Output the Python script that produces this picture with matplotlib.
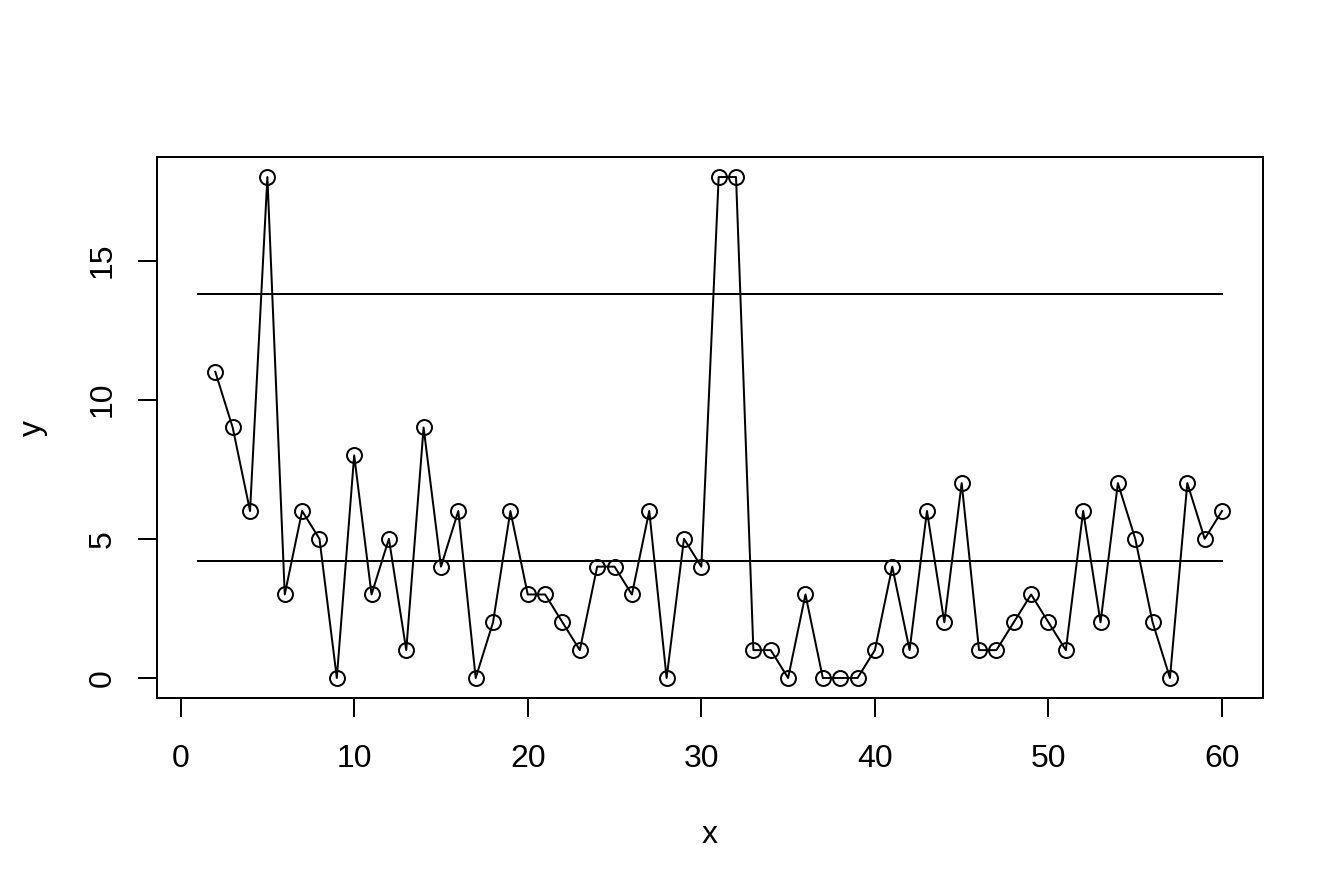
import numpy as np
import matplotlib.pyplot as plt

plt.rcParams['font.family'] = ['Liberation Sans', 'DejaVu Sans']

# series
x = np.arange(2, 61)
y = np.array([11, 9, 6, 18, 3, 6, 5, 0, 8, 3,
              5, 1, 9, 4, 6, 0, 2, 6, 3, 3,
              2, 1, 4, 4, 3, 6, 0, 5, 4, 18,
              18, 1, 1, 0, 3, 0, 0, 0, 1, 4,
              1, 6, 2, 7, 1, 1, 2, 3, 2, 1,
              6, 2, 7, 5, 2, 0, 7, 5, 6])

# reference lines (mean and upper limit)
line_x = [1, 60]
mean_y = 4.22
upper_y = 13.8

xticks = [0, 10, 20, 30, 40, 50, 60]
yticks = [0, 5, 10, 15]

lw = 0.75
fig = plt.figure(figsize=(1344 / 192, 895 / 192), dpi=192)
ax = fig.add_axes([157 / 1344, 1 - 698 / 895, (1263 - 157) / 1344, (698 - 157) / 895])

ax.plot(x, y, color='black', lw=lw, marker='o', markersize=5.6,
        markerfacecolor='none', markeredgecolor='black', markeredgewidth=lw)
ax.plot(line_x, [mean_y, mean_y], color='black', lw=lw)
ax.plot(line_x, [upper_y, upper_y], color='black', lw=lw)

# R style range padding of 4%
yr = y.max() - y.min()
ax.set_xlim(1 - 0.04 * (60 - 1), 60 + 0.04 * (60 - 1))
ax.set_ylim(y.min() - 0.04 * yr, y.max() + 0.04 * yr)

ax.set_xticks(xticks)
ax.set_yticks(yticks)
ax.set_yticklabels([str(v) for v in yticks], rotation=90, va='center')
ax.tick_params(direction='out', length=7.2, width=lw, labelsize=12)
ax.tick_params(axis='x', pad=10.2)
ax.tick_params(axis='y', pad=7.5)
for s in ax.spines.values():
    s.set_linewidth(lw)

ax.set_xlabel('x', fontsize=12, labelpad=17)
ax.set_ylabel('y', fontsize=12, labelpad=15)

fig.savefig('out.png', dpi=192)
